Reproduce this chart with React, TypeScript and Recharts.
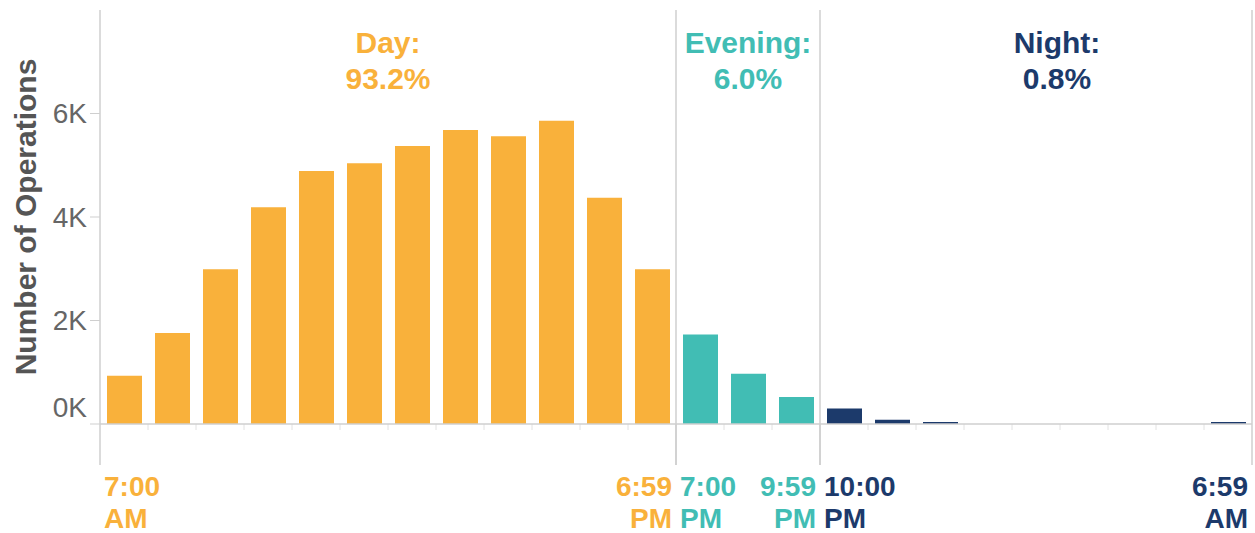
import { Bar, BarChart, Cell, ReferenceArea, XAxis, YAxis } from "recharts";

// hourly buckets, starting at 7 AM
const hours = [
  "7 AM", "8 AM", "9 AM", "10 AM", "11 AM", "12 PM",
  "1 PM", "2 PM", "3 PM", "4 PM", "5 PM", "6 PM",
  "7 PM", "8 PM", "9 PM",
  "10 PM", "11 PM", "12 AM", "1 AM", "2 AM", "3 AM", "4 AM", "5 AM", "6 AM",
];
const operations = [
  930, 1760, 2990, 4190, 4890, 5040, 5370, 5680, 5560, 5860, 4370, 2990,
  1730, 970, 520,
  300, 80, 40, 0, 0, 0, 0, 0, 40,
];

const periodNames = ["Day", "Evening", "Night"];
const periodShares = ["93.2%", "6.0%", "0.8%"];
const periodFirstHour = ["7 AM", "7 PM", "10 PM"];
const periodLastHour = ["6 PM", "9 PM", "6 AM"];
const periodStartLabels = [["7:00", "AM"], ["7:00", "PM"], ["10:00", "PM"]];
const periodEndLabels = [["6:59", "PM"], ["9:59", "PM"], ["6:59", "AM"]];

const yTicks = [0, 2000, 4000, 6000];

const periodColors = ["#F9B13B", "#41BDB4", "#1C3A6B"];
const titleShift = [0, 0, 21];
const lineGray = "#cfcfcf";
const font = "'Liberation Sans', Arial, sans-serif";

const periodIndexOf = (i: number) => {
  let p = 0;
  periodFirstHour.forEach((h, k) => {
    if (i >= hours.indexOf(h)) p = k;
  });
  return p;
};

const data = hours.map((hour, i) => ({
  hour,
  ops: operations[i],
  period: periodIndexOf(i),
}));

const YTick = (props: any) => {
  const { x, y, payload } = props;
  return (
    <text
      x={x - 1}
      y={payload.value === 0 ? y - 17 : y}
      textAnchor="end"
      dominantBaseline="central"
      fill="#666"
      fontSize={28}
      fontFamily={font}
    >
      {`${payload.value / 1000}K`}
    </text>
  );
};

const YLabel = (props: any) => {
  const { viewBox } = props;
  const cx = viewBox.x + 25;
  const cy = viewBox.y + viewBox.height / 2;
  return (
    <text
      x={cx}
      y={cy}
      transform={`rotate(-90 ${cx} ${cy})`}
      textAnchor="middle"
      dominantBaseline="central"
      fill="#555"
      fontSize={30}
      fontWeight="bold"
      fontFamily={font}
    >
      Number of Operations
    </text>
  );
};

const periodShape = (p: number) => (props: any) => {
  const { x, y, width, height } = props;
  const right = x + width;
  const bottom = y + height;
  const color = periodColors[p];
  const n = hours.indexOf(periodLastHour[p]) - hours.indexOf(periodFirstHour[p]) + 1;
  const step = width / n;
  const cx = x + width / 2 + titleShift[p];
  const textProps = { fill: color, fontWeight: "bold", fontFamily: font };
  return (
    <g>
      <line x1={x} x2={x} y1={bottom} y2={bottom + 41} stroke={lineGray} strokeWidth={1.5} />
      <line x1={right} x2={right} y1={y} y2={bottom + 41} stroke={lineGray} strokeWidth={1.5} />
      {Array.from({ length: n - 1 }, (_, k) => (
        <line
          key={k}
          x1={x + step * (k + 1)}
          x2={x + step * (k + 1)}
          y1={bottom}
          y2={bottom + 6}
          stroke="#e2e2e2"
        />
      ))}
      <text x={cx} y={y + 43} textAnchor="middle" fontSize={30} {...textProps}>
        <tspan x={cx}>{periodNames[p]}:</tspan>
        <tspan x={cx} dy={36}>{periodShares[p]}</tspan>
      </text>
      <text x={x + 4} y={bottom + 72} fontSize={28} {...textProps}>
        <tspan x={x + 4}>{periodStartLabels[p][0]}</tspan>
        <tspan x={x + 4} dy={32}>{periodStartLabels[p][1]}</tspan>
      </text>
      <text x={right - 4} y={bottom + 72} textAnchor="end" fontSize={28} {...textProps}>
        <tspan x={right - 4}>{periodEndLabels[p][0]}</tspan>
        <tspan x={right - 4} dy={32}>{periodEndLabels[p][1]}</tspan>
      </text>
    </g>
  );
};

export default function App() {
  return (
    <div style={{ position: "absolute", left: 0, top: 0, width: 1255, height: 533, background: "#fff" }}>
      <BarChart
        width={1255}
        height={533}
        data={data}
        margin={{ top: 10, right: 3, bottom: 0, left: 0 }}
      >
        <XAxis
          dataKey="hour"
          height={109}
          tick={false}
          tickLine={false}
          axisLine={{ stroke: lineGray, strokeWidth: 1.5 }}
        />
        <YAxis
          width={100}
          domain={[0, 8000]}
          ticks={yTicks}
          tickSize={10}
          tickLine={{ stroke: lineGray }}
          axisLine={{ stroke: lineGray, strokeWidth: 1.5 }}
          tick={<YTick />}
          label={<YLabel />}
        />
        {periodNames.map((name, p) => (
          <ReferenceArea
            key={name}
            x1={periodFirstHour[p]}
            x2={periodLastHour[p]}
            fill="none"
            shape={periodShape(p)}
          />
        ))}
        <Bar dataKey="ops" barSize={35} isAnimationActive={false}>
          {data.map((d) => (
            <Cell key={d.hour} fill={periodColors[d.period]} />
          ))}
        </Bar>
      </BarChart>
    </div>
  );
}
